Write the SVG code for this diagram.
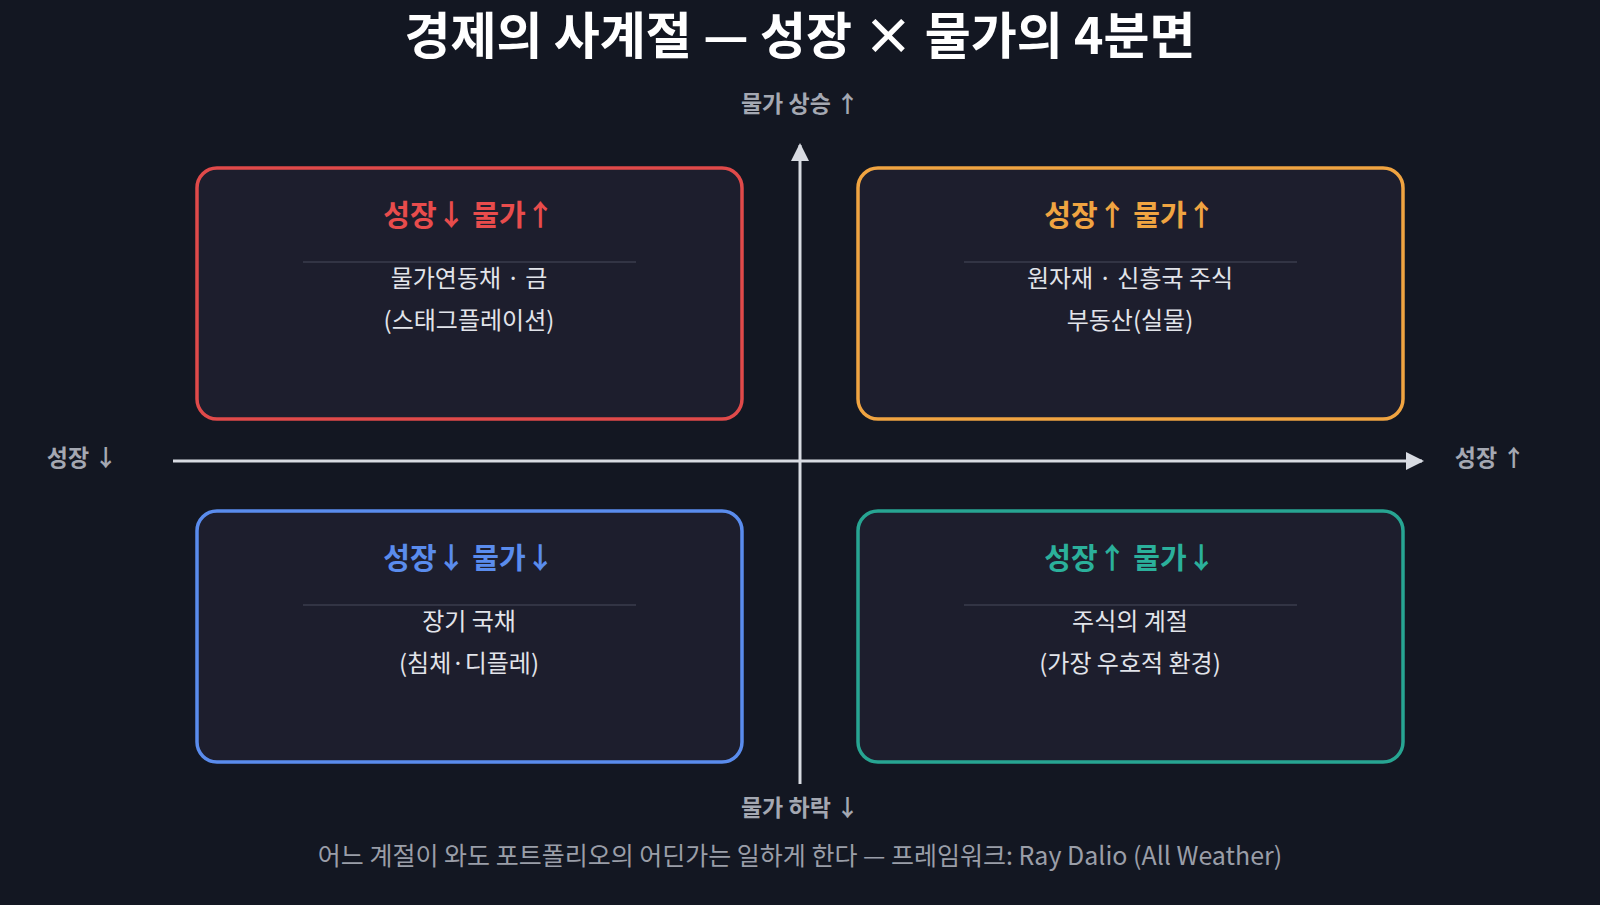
<svg xmlns="http://www.w3.org/2000/svg" width="1600" height="905" viewBox="0 0 1600 905">
<style>
text{font-family:"Noto Sans CJK KR","Noto Sans",sans-serif;text-anchor:middle}
.box{fill:#1d1e2d;stroke-width:3.5}
.h{font-size:29px;font-weight:700}
.b{font-size:24px;fill:#e2e4ea}
.ax{font-size:23px;font-weight:700;fill:#a4a8b2}
.dv{stroke:#3a3d4c;stroke-width:1.5}
</style>
<defs><marker id="ar2" markerWidth="20" markerHeight="20" refX="16" refY="10" orient="auto" markerUnits="userSpaceOnUse" viewBox="0 0 20 20"><path d="M0,1L18,10L0,19z" fill="#d8dbe2"/></marker></defs>
<rect width="1600" height="905" fill="#131722"/>
<text x="800" y="54" font-size="50" font-weight="700" fill="#ffffff">경제의 사계절 — 성장 × 물가의 4분면</text>
<g id="connectors" stroke="#d8dbe2" stroke-width="3">
<line x1="800" y1="784" x2="800" y2="145" marker-end="url(#ar2)"/>
<line x1="173" y1="461" x2="1422" y2="461" marker-end="url(#ar2)"/>
</g>
<text class="ax" x="800" y="112">물가 상승 ↑</text>
<text class="ax" x="800" y="816">물가 하락 ↓</text>
<text class="ax" x="82" y="466">성장 ↓</text>
<text class="ax" x="1490" y="466">성장 ↑</text>
<g id="q-stag"><rect class="box" x="197" y="168" width="545" height="251" rx="20" stroke="#e04a4a"/>
<text class="h" x="469" y="226" fill="#e84c4c">성장↓ 물가↑</text><line class="dv" x1="303" y1="262" x2="636" y2="262"/>
<text class="b" x="469" y="287">물가연동채 · 금</text><text class="b" x="469" y="329">(스태그플레이션)</text></g>
<g id="q-inf"><rect class="box" x="858" y="168" width="545" height="251" rx="20" stroke="#f0a441"/>
<text class="h" x="1130" y="226" fill="#f0a441">성장↑ 물가↑</text><line class="dv" x1="964" y1="262" x2="1297" y2="262"/>
<text class="b" x="1130" y="287">원자재 · 신흥국 주식</text><text class="b" x="1130" y="329">부동산(실물)</text></g>
<g id="q-def"><rect class="box" x="197" y="511" width="545" height="251" rx="20" stroke="#5a8ced"/>
<text class="h" x="469" y="569" fill="#5a8ced">성장↓ 물가↓</text><line class="dv" x1="303" y1="605" x2="636" y2="605"/>
<text class="b" x="469" y="630">장기 국채</text><text class="b" x="469" y="672">(침체·디플레)</text></g>
<g id="q-gold"><rect class="box" x="858" y="511" width="545" height="251" rx="20" stroke="#27a592"/>
<text class="h" x="1130" y="569" fill="#2bb09b">성장↑ 물가↓</text><line class="dv" x1="964" y1="605" x2="1297" y2="605"/>
<text class="b" x="1130" y="630">주식의 계절</text><text class="b" x="1130" y="672">(가장 우호적 환경)</text></g>
<text x="800" y="865" font-size="25" fill="#9a9ea8">어느 계절이 와도 포트폴리오의 어딘가는 일하게 한다 — 프레임워크: Ray Dalio (All Weather)</text>
</svg>
